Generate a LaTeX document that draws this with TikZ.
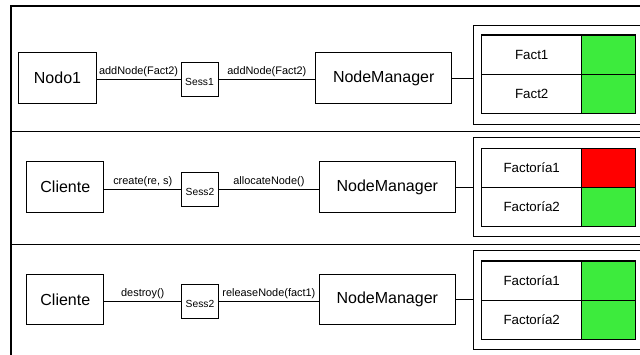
\documentclass[tikz,border=0pt]{standalone}
\usepackage{fontspec}
\setmainfont{Liberation Sans}
\definecolor{okgreen}{RGB}{61,235,61}
\definecolor{busyred}{RGB}{255,0,0}
\newcommand{\sesslabel}[1]{\raisebox{-2.5pt}[\height][\depth]{#1}}
\begin{document}
\begin{tikzpicture}[x=0.75pt,y=-0.75pt,
  frameline/.style={line width=0.9pt},
  conn/.style={line width=0.75pt},
  actor/.style={draw, line width=0.75pt, inner sep=0pt, minimum width=58pt, minimum height=38pt, font=\fontsize{12}{14}\selectfont},
  session/.style={draw, line width=0.75pt, inner sep=0pt, minimum width=27.75pt, minimum height=25.5pt, font=\fontsize{7.7}{9}\selectfont},
  manager/.style={draw, line width=0.75pt, inner sep=0pt, minimum width=102pt, minimum height=37.8pt, font=\fontsize{12}{14}\selectfont},
  store/.style={draw, line width=0.75pt, inner sep=0pt, minimum width=139.7pt, minimum height=74.25pt},
  cellname/.style={draw, line width=0.8pt, inner sep=0pt, minimum width=75pt, minimum height=29.4pt, font=\fontsize{10}{12}\selectfont},
  cellstate/.style={draw, line width=0.8pt, inner sep=0pt, minimum width=40.5pt, minimum height=29.4pt},
  msg/.style={above, inner sep=1.5pt, font=\fontsize{8.2}{10}\selectfont}
]
\clip (0,0) rectangle (640,354);

% outer frame and row separators
\draw[frameline] (11,360) -- (11,6) -- (650,6);
\draw[frameline] (11,131.5) -- (650,131.5);
\draw[frameline] (11,244.3) -- (650,244.3);

% ---- row 1 ----
\node[actor]   (nodo1) at (57.5,78)  {Nodo1};
\node[session] (sess1) at (199.5,79) {\sesslabel{Sess1}};
\node[manager] (nm1)   at (383.7,78) {NodeManager};
\node[store]   (st1)   at (566.85,74.5) {};
\node[cellname]  (f11) at (531.7,54.6) {Fact1};
\node[cellname]  (f12) at (531.7,93.8) {Fact2};
\node[cellstate, fill=okgreen] (s11) at (608.7,54.6) {};
\node[cellstate, fill=okgreen] (s12) at (608.7,93.8) {};
\draw[conn] (nodo1.east |- sess1) -- node[msg] {addNode(Fact2)} (sess1);
\draw[conn] (sess1) -- node[msg] {addNode(Fact2)} (sess1 -| nm1.west);
\draw[conn] (nm1) -- (nm1 -| st1.west);

% ---- row 2 ----
\node[actor]   (cli2)  at (65.3,187)  {Cliente};
\node[session] (sess2) at (200,189)   {\sesslabel{Sess2}};
\node[manager] (nm2)   at (387.3,187) {NodeManager};
\node[store]   (st2)   at (566.85,187.2) {};
\node[cellname]  (f21) at (531.7,167.9) {Factoría1};
\node[cellname]  (f22) at (531.7,207.1) {Factoría2};
\node[cellstate, fill=busyred] (s21) at (608.7,167.9) {};
\node[cellstate, fill=okgreen] (s22) at (608.7,207.1) {};
\draw[conn] (cli2.east |- sess2) -- node[msg] {create(re, s)} (sess2);
\draw[conn] (sess2) -- node[msg] {allocateNode()} (sess2 -| nm2.west);
\draw[conn] (nm2) -- (nm2 -| st2.west);

% ---- row 3 ----
\node[actor]   (cli3)  at (65.3,299.5)  {Cliente};
\node[session] (sess3) at (200,301)   {\sesslabel{Sess2}};
\node[manager] (nm3)   at (387.3,299.5) {NodeManager};
\node[store]   (st3)   at (566.85,300) {};
\node[cellname]  (f31) at (531.7,280.6) {Factoría1};
\node[cellname]  (f32) at (531.7,319.8) {Factoría2};
\node[cellstate, fill=okgreen] (s31) at (608.7,280.6) {};
\node[cellstate, fill=okgreen] (s32) at (608.7,319.8) {};
\draw[conn] (cli3.east |- sess3) -- node[msg] {destroy()} (sess3);
\draw[conn] (sess3) -- node[msg] {releaseNode(fact1)} (sess3 -| nm3.west);
\draw[conn] (nm3) -- (nm3 -| st3.west);
\end{tikzpicture}
\end{document}
